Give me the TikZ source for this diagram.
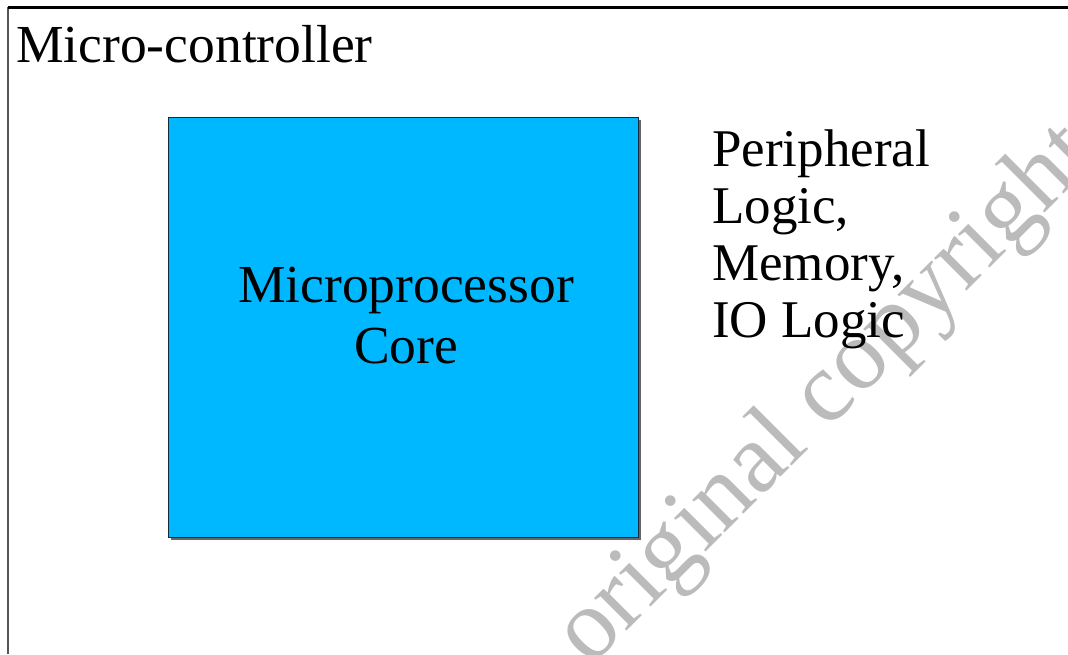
\documentclass[tikz,border=0pt]{standalone}
\usepackage{fontspec}
\setmainfont{Liberation Serif}
\usetikzlibrary{positioning, shadows}
\definecolor{COREblue}{RGB}{0, 184, 255}
\definecolor{COREedge}{RGB}{20, 40, 60}
\definecolor{FRAMEgrey}{RGB}{85, 85, 85}
\definecolor{MARKgrey}{RGB}{187, 187, 187}
\tikzset{
	bigtext/.style={font=\fontsize{53.5}{61}\selectfont, inner sep=0pt},
	corebox/.style={shape=rectangle, draw=COREedge, line width=1pt, fill=COREblue, minimum width=470pt, minimum height=420pt, drop shadow={shadow xshift=2.5pt, shadow yshift=-2.5pt, fill=black!60, opacity=1}}
}

\begin{document}
\begin{tikzpicture}[x=1pt, y=-1pt]
		\useasboundingbox (0,0) rectangle (1068,654);
		\clip (0,0) rectangle (1068,654);

		% watermark
		\node[font=\fontsize{100}{100}\selectfont, text=MARKgrey, inner sep=0pt, rotate=45, anchor=base west] (mark) at (590,668) {original copyright};

		% frame
		\coordinate (fnw) at (8,7);
		\coordinate (fne) at (1068,7);
		\coordinate (fsw) at (8,654);
		\draw[FRAMEgrey, line width=2pt] (fsw) -- (fnw);
		\draw[black, line width=3pt] (fnw) -- (fne);
		\node[bigtext, anchor=base west] (mcu) at (16,62) {Micro-controller};

		% core
		\node[corebox] (core) at (403,327) {};
		\node[bigtext, align=center, anchor=base] (coretxt) at (406,363) {Microprocessor\\Core};

		% peripherals
		\node[bigtext, align=left, anchor=base west, font=\fontsize{53}{57}\selectfont] (periph) at (712,337) {Peripheral\\Logic,\\Memory,\\IO Logic};
	\end{tikzpicture}
\end{document}
